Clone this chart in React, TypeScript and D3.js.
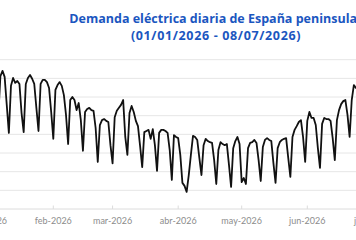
import React from 'react';
import * as d3 from 'd3';

// demanda diaria (GWh), un array por mes
const ene = [640, 740, 700, 660, 770, 700, 806, 820, 804, 729, 654, 780, 801, 788, 793, 785, 707, 656, 785, 801, 809, 799, 785, 721, 659, 785, 796, 796, 790, 774, 710];
const feb = [638, 769, 782, 790, 780, 755, 702, 624, 742, 750, 742, 715, 734, 688, 606, 710, 718, 721, 715, 713, 667, 576, 675, 688, 691, 686, 683, 621];
const mar = [572, 696, 713, 721, 729, 742, 643, 595, 707, 726, 710, 686, 672, 619, 562, 656, 659, 662, 638, 664, 621, 552, 654, 662, 662, 659, 654, 608, 528, 648, 643];
const abr = [640, 595, 520, 512, 496, 541, 595, 646, 643, 635, 587, 541, 621, 638, 632, 629, 627, 581, 517, 608, 629, 624, 621, 624, 568, 509, 613, 632, 643, 624];
const may = [522, 533, 517, 613, 627, 629, 635, 627, 581, 525, 616, 635, 640, 635, 632, 573, 520, 613, 629, 635, 638, 640, 587, 536, 643, 662, 672, 683, 688, 643, 576];
const jun = [686, 710, 694, 694, 675, 613, 560, 678, 694, 691, 691, 686, 640, 581, 688, 715, 731, 739, 742, 702, 643, 742, 782, 774, 778, 765, 710, 650, 760, 785];
const jul = [795, 800, 790, 730, 665, 775, 795, 800];

const meses = ['ene', 'feb', 'mar', 'abr', 'may', 'jun', 'jul'];
const gridValues = [500, 550, 600, 650, 700, 750, 800, 850];

const tituloL1 = 'Demanda eléctrica diaria de España peninsular';
const tituloL2 = '(01/01/2026 - 08/07/2026)';

const W = 356;
const H = 240;

const serie = [ene, feb, mar, abr, may, jun, jul].flatMap((dias, m) =>
  dias.map((v, i) => ({ fecha: new Date(2026, m, i + 1), valor: v }))
);

export default function App() {
  const x = d3
    .scaleTime()
    .domain([new Date(2026, 0, 1), new Date(2026, 6, 8)])
    .range([-12.3, 385.6]);

  const y = d3.scaleLinear().domain([450, 850]).range([209, 59.7]);

  const linea = d3
    .line<{ fecha: Date; valor: number }>()
    .x(d => x(d.fecha))
    .y(d => y(d.valor));

  const ticks = x.ticks(d3.timeMonth.every(1)!);
  const fmt = (d: Date) => `${meses[d.getMonth()]}-${d.getFullYear()}`;

  return (
    <div style={{ position: 'fixed', left: 0, top: 0, background: '#fff' }}>
      <svg width={W} height={H} style={{ display: 'block' }}>
        <rect width={W} height={H} fill="#fff" />
        <text
          x={216}
          textAnchor="middle"
          fill="#1b56c0"
          fontFamily="'Open Sans', sans-serif"
          fontWeight={700}
          fontSize={12.5}
        >
          <tspan x={216} y={23}>{tituloL1}</tspan>
          <tspan x={216} y={39.5} letterSpacing={0.65}>{tituloL2}</tspan>
        </text>

        {gridValues.map(v => (
          <line key={v} x1={0} x2={W} y1={y(v)} y2={y(v)} stroke="#e6e6e6" strokeWidth={1} />
        ))}
        <line x1={0} x2={W} y1={y(450)} y2={y(450)} stroke="#dcdcdc" strokeWidth={1} />

        {ticks.map(t => (
          <g key={t.getTime()} transform={`translate(${x(t)},0)`}>
            <line y1={y(450) - 3.5} y2={y(450)} stroke="#dcdcdc" />
            <text
              y={224}
              textAnchor="middle"
              fill="#8c8c8c"
              fontFamily="Lato, sans-serif"
              fontSize={9}
            >
              {fmt(t)}
            </text>
          </g>
        ))}

        <path
          d={linea(serie) ?? ''}
          fill="none"
          stroke="#111"
          strokeWidth={1.8}
          strokeLinejoin="round"
        />
      </svg>
    </div>
  );
}
